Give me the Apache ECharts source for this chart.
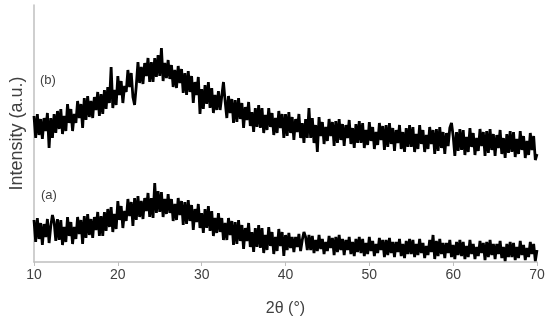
<!DOCTYPE html>
<html>
<head>
<meta charset="utf-8">
<script src="https://cdn.jsdelivr.net/npm/echarts@6/dist/echarts.min.js"></script>
<style>html,body{margin:0;padding:0;background:#fff}#c{width:550px;height:325px}</style>
</head>
<body>
<div id="c"></div>
<script>
// 2θ sampling: 10.0, 10.2, ... 70.0 (five per degree)
const thetaStart = 10;
const thetaStep = 0.2;
const xTicks = [10, 20, 30, 40, 50, 60, 70];
const seriesNames = ['(a)', '(b)'];

const intensityB = [
  146,124,148,127,143, 123,144,131,149,114, 144,124,148,129,151, 133,153,128,146,131,
  158,139,153,131,148, 139,161,144,158,134, 164,142,166,145,161, 144,165,152,170,146,
  168,148,172,153,175, 159,195,154,172,157, 186,167,181,159,176, 170,192,175,189,165,
  157,176,200,179,195, 178,199,186,204,180, 200,180,204,185,207, 186,214,181,199,184,
  202,183,197,175,192, 174,196,179,193,169, 189,167,191,170,186, 159,180,167,185,148,
  173,153,177,158,180, 154,174,149,167,152, 171,152,166,180,161, 144,166,149,163,139,
  162,140,164,143,159, 134,155,142,160,136, 150,130,154,135,157, 134,154,129,147,132,
  154,135,149,127,144, 129,151,134,148,124, 148,126,150,129,145, 122,143,130,148,124,
  139,119,143,124,154, 124,144,119,137,110, 145,126,140,118,135, 121,143,126,140,116,
  141,119,143,122,138, 116,137,124,142,118, 134,114,138,119,141, 119,139,114,132,117,
  140,121,135,113,130, 117,139,122,136,112, 137,115,139,118,134, 111,132,119,137,113,
  130,110,134,115,137, 115,135,110,128,113, 137,118,132,110,127, 113,135,118,132,108,
  133,111,135,114,130, 108,129,116,134,139, 126,106,130,111,133, 112,132,107,125,110,
  134,115,129,107,124, 111,133,116,130,106, 131,109,133,112,128, 106,127,114,132,108,
  124,104,128,109,131, 110,130,105,123,108, 131,112,126,104,121, 107,129,112,126,102,
  108
];

const intensityA = [
  42,20,44,23,39, 17,38,25,43,19, 36,47,40,21,43, 22,42,17,35,20,
  45,26,40,18,35, 23,45,28,42,18, 46,24,48,27,43, 24,45,32,50,26,
  46,26,50,31,53, 35,55,30,48,33, 61,42,56,34,51, 41,63,46,60,36,
  64,42,66,45,61, 43,64,51,69,45, 64,44,79,49,71, 50,70,45,63,48,
  68,49,63,41,58, 42,64,47,61,37, 60,38,62,41,57, 32,53,40,58,34,
  49,29,53,34,56, 31,51,26,44,29, 49,30,44,22,39, 22,44,27,41,17,
  40,18,42,21,37, 13,34,21,39,15, 30,10,34,15,37, 14,34,9,27,12,
  35,16,30,8,25, 11,33,16,30,6, 27,12,29,14,25, 10,25,15,28,11,
  22,30,25,12,27, 12,26,9,22,11, 27,13,23,8,20, 11,26,14,24,7,
  25,10,27,12,23, 7,22,12,25,8, 20,6,23,10,25, 9,23,6,19,8,
  25,11,21,6,18, 9,24,12,22,5, 22,7,24,9,20, 5,20,10,23,6,
  18,4,21,8,23, 8,22,5,18,7, 23,9,19,4,16, 7,22,10,27,3,
  21,6,23,8,19, 4,19,9,22,5, 17,3,20,7,22, 6,20,3,16,5,
  22,8,18,3,15, 6,21,9,19,2, 20,5,22,7,18, 3,18,8,21,4,
  15,1,18,5,20, 5,19,2,15,4, 21,7,17,2,14, 5,20,8,18,1,
  12
];

function pairs(vals) {
  return vals.map((v, i) => [+(thetaStart + i * thetaStep).toFixed(2), v]);
}

const chart = echarts.init(document.getElementById('c'), null, {renderer: 'canvas'});
const textColor = '#404040';
const axisColor = '#bfbfbf';
const font = 'Liberation Sans, Arial, sans-serif';

const lineSeries = (name, vals) => ({
  name: name, type: 'line', data: pairs(vals), showSymbol: false, symbol: 'none',
  sampling: 'none', large: false, progressive: 0, smooth: false,
  lineStyle: {color: '#000', width: 2.8, join: 'bevel'}
});

chart.setOption({
  animation: false,
  backgroundColor: '#ffffff',
  grid: {left: 29, right: 13, top: 5, bottom: 63, containLabel: false},
  xAxis: {
    type: 'value', min: 10, max: 70, interval: 10,
    name: '2θ (°)', nameLocation: 'middle', nameGap: 39,
    nameTextStyle: {color: textColor, fontSize: 16, fontFamily: font},
    axisLine: {show: true, lineStyle: {color: axisColor, width: 1.5}},
    axisTick: {show: true, length: 4, lineStyle: {color: axisColor, width: 1}},
    axisLabel: {color: textColor, fontSize: 14, margin: 6, fontFamily: font,
      formatter: v => xTicks.includes(v) ? String(v) : ''},
    splitLine: {show: false}
  },
  yAxis: {
    type: 'value', min: 0, max: 257,
    name: 'Intensity (a.u.)', nameLocation: 'middle', nameGap: 8, nameRotate: 90,
    nameTextStyle: {color: textColor, fontSize: 18, fontFamily: font},
    axisLine: {show: true, lineStyle: {color: axisColor, width: 1.5}},
    axisTick: {show: false},
    axisLabel: {show: false},
    splitLine: {show: false}
  },
  graphic: [
    {type: 'text', left: 40, top: 74, style: {text: '(b)', fill: textColor, fontSize: 13, fontFamily: font}},
    {type: 'text', left: 41, top: 189, style: {text: '(a)', fill: textColor, fontSize: 13, fontFamily: font}}
  ],
  series: [lineSeries(seriesNames[0], intensityA), lineSeries(seriesNames[1], intensityB)]
});
</script>
</body>
</html>
